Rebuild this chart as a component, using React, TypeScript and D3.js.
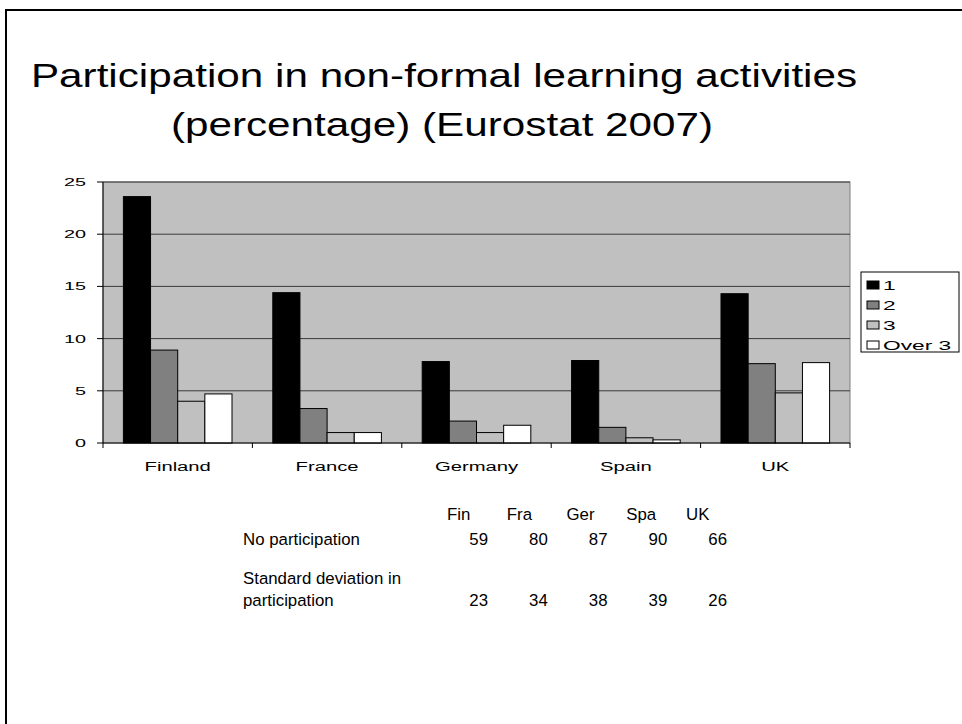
import { useEffect, useRef } from 'react'
import * as d3 from 'd3'

const countries = ['Finland', 'France', 'Germany', 'Spain', 'UK']
const seriesNames = ['1', '2', '3', 'Over 3']
const seriesColors = ['#000000', '#808080', '#c0c0c0', '#ffffff']
const activitiesOne = [23.6, 14.4, 7.8, 7.9, 14.3]
const activitiesTwo = [8.9, 3.3, 2.1, 1.5, 7.6]
const activitiesThree = [4.0, 1.0, 1.0, 0.5, 4.8]
const activitiesOverThree = [4.7, 1.0, 1.7, 0.3, 7.7]
const yTicks = [0, 5, 10, 15, 20, 25]

const tableHeaders = ['Fin', 'Fra', 'Ger', 'Spa', 'UK']
const noParticipation = [59, 80, 87, 90, 66]
const stdDeviation = [23, 34, 38, 39, 26]

const FONT = '"Liberation Sans", Arial, sans-serif'

export default function App() {
  const svgRef = useRef<SVGSVGElement>(null)

  useEffect(() => {
    if (!svgRef.current) return
    const svg = d3.select(svgRef.current)
    svg.selectAll('*').remove()

    const width = 962
    const height = 724
    const left = 103
    const right = 850
    const top = 182
    const bottom = 443

    svg.append('rect').attr('width', width).attr('height', height).attr('fill', '#fff')

    // slide frame
    svg.append('rect')
      .attr('x', 6).attr('y', 10)
      .attr('width', 970).attr('height', 730)
      .attr('fill', 'none').attr('stroke', '#000').attr('stroke-width', 2)

    // stretched text helper
    const label = (
      x: number, y: number, text: string, size: number, sx: number,
      anchor = 'start'
    ) =>
      svg.append('text')
        .attr('transform', `translate(${x},${y}) scale(${sx},1)`)
        .attr('text-anchor', anchor)
        .style('font-family', FONT)
        .style('font-size', `${size}px`)
        .style('fill', '#000')
        .text(text)

    label(444, 87, 'Participation in non-formal learning activities', 33, 1.28, 'middle')
    label(442, 136, '(percentage) (Eurostat 2007)', 33, 1.28, 'middle')

    const x = d3.scaleBand<string>()
      .domain(countries)
      .range([left, right])
      .paddingInner(0.273)
      .paddingOuter(0.1365)
    const xs = d3.scaleBand<string>()
      .domain(seriesNames)
      .range([0, x.bandwidth()])
    const y = d3.scaleLinear().domain([0, 25]).range([bottom, top])

    // plot area
    svg.append('rect')
      .attr('x', left).attr('y', top)
      .attr('width', right - left).attr('height', bottom - top)
      .attr('fill', '#c0c0c0')
      .attr('stroke', '#808080').attr('stroke-width', 1)

    svg.append('g')
      .selectAll('line')
      .data(yTicks.filter((t) => t > 0))
      .enter()
      .append('line')
      .attr('x1', left).attr('x2', right)
      .attr('y1', (d) => y(d)).attr('y2', (d) => y(d))
      .attr('stroke', '#3a3a3a').attr('stroke-width', 1)

    const values = [activitiesOne, activitiesTwo, activitiesThree, activitiesOverThree]
    values.forEach((vals, si) => {
      svg.append('g')
        .selectAll('rect')
        .data(vals)
        .enter()
        .append('rect')
        .attr('x', (d, i) => (x(countries[i]) ?? 0) + (xs(seriesNames[si]) ?? 0))
        .attr('y', (d) => y(d))
        .attr('width', xs.bandwidth())
        .attr('height', (d) => y(0) - y(d))
        .attr('fill', seriesColors[si])
        .attr('stroke', '#000')
        .attr('stroke-width', 1)
    })

    // axes
    svg.append('line')
      .attr('x1', left).attr('x2', left).attr('y1', top).attr('y2', bottom)
      .attr('stroke', '#000')
    svg.append('line')
      .attr('x1', left).attr('x2', right).attr('y1', bottom).attr('y2', bottom)
      .attr('stroke', '#000')

    yTicks.forEach((t) => {
      svg.append('line')
        .attr('x1', left - 6).attr('x2', left)
        .attr('y1', y(t)).attr('y2', y(t))
        .attr('stroke', '#000')
      label(86, y(t) + 4, String(t), 11, 1.8, 'end')
    })

    const step = x.step()
    d3.range(countries.length + 1).forEach((i) => {
      const px = left + i * step
      svg.append('line')
        .attr('x1', px).attr('x2', px)
        .attr('y1', bottom).attr('y2', bottom + 5)
        .attr('stroke', '#000')
    })
    countries.forEach((c) => {
      label((x(c) ?? 0) + x.bandwidth() / 2, 471, c, 13.5, 1.5, 'middle')
    })

    // legend
    svg.append('rect')
      .attr('x', 861).attr('y', 272).attr('width', 98).attr('height', 80)
      .attr('fill', '#fff').attr('stroke', '#000')
    seriesNames.forEach((s, i) => {
      const cy = 285 + i * 20
      svg.append('rect')
        .attr('x', 867).attr('y', cy - 4).attr('width', 12).attr('height', 8)
        .attr('fill', seriesColors[i]).attr('stroke', '#000')
      label(883, cy + 5, s, 13, 1.75)
    })

    // table
    const colRight = d3.scaleLinear().domain([0, 4]).range([488, 727])
    tableHeaders.forEach((h, i) => label(colRight(i) - 41, 520, h, 16.5, 1.02))
    label(243, 545, 'No participation', 16.5, 1.02)
    noParticipation.forEach((v, i) => label(colRight(i), 545, String(v), 16.5, 1.02, 'end'))
    label(243, 584, 'Standard deviation in', 16.5, 1.02)
    label(243, 606, 'participation', 16.5, 1.02)
    stdDeviation.forEach((v, i) => label(colRight(i), 606, String(v), 16.5, 1.02, 'end'))
  }, [])

  return (
    <svg
      ref={svgRef}
      width={962}
      height={724}
      style={{ position: 'absolute', left: 0, top: 0, display: 'block' }}
    />
  )
}
